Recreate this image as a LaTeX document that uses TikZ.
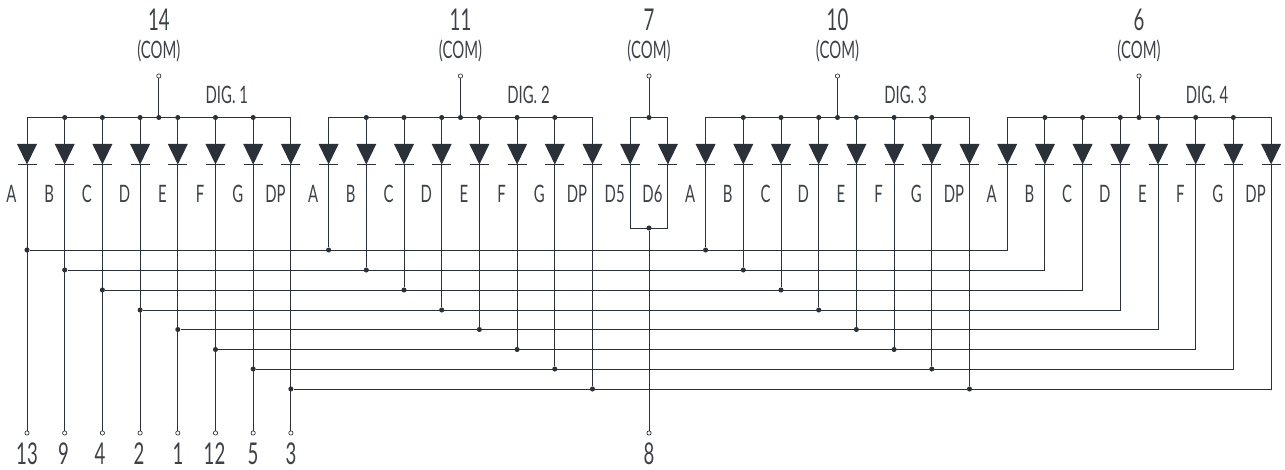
\documentclass[tikz,border=0pt]{standalone}
\usepackage{fontspec}
\setmainfont[FakeStretch=0.62]{Lato}
\usepackage{xcolor}
\usetikzlibrary{positioning}
\definecolor{wirecol}{HTML}{2A3138}
\definecolor{textcol}{HTML}{3C4248}
\tikzset{
    wire/.style={draw=wirecol, line width=0.7pt},
    joint/.style={circle, fill=wirecol, inner sep=0pt, minimum size=3.8pt},
    pinend/.style={circle, draw=wirecol, fill=white, line width=0.5pt, inner sep=0pt, minimum size=3.2pt},
    biglabel/.style={text=textcol, font=\fontsize{22.5}{23}\selectfont, inner sep=0pt},
    smalllabel/.style={text=textcol, font=\fontsize{18}{18}\selectfont, inner sep=0pt}
}
\begin{document}
\begin{tikzpicture}[x=0.75pt, y=-0.75pt]
    \useasboundingbox (0,0) rectangle (1285,470);

    % Diodes with their segment labels, one column each
    \foreach \n/\seg in {0/A,1/B,2/C,3/D,4/E,5/F,6/G,7/DP,
                         8/A,9/B,10/C,11/D,12/E,13/F,14/G,15/DP,
                         16/D5,17/D6,
                         18/A,19/B,20/C,21/D,22/E,23/F,24/G,25/DP,
                         26/A,27/B,28/C,29/D,30/E,31/F,32/G,33/DP} {
        \coordinate (top\n) at ({27+37.7*\n},117.5);
        \coordinate (anode\n) at ({27+37.7*\n},144);
        \coordinate (cath\n) at ({27+37.7*\n},164.5);
        \fill[wirecol] (anode\n) ++(-10,0) -- ++(20,0) -- (cath\n) -- cycle;
        \draw[wire] (cath\n) ++(-9.5,0) -- ++(19,0);
        \draw[wire] (top\n) -- (anode\n);
        \node[smalllabel] (seg\n) at ({11.5+37.7*\n},194) {\seg};
    }

    % Common rail of each digit with its pin
    \foreach \dig/\first/\last/\pinx/\num/\name in {1/0/7/158.8/14/DIG. 1, 2/8/15/460.5/11/DIG. 2,
                                                    3/18/25/837.5/10/DIG. 3, 4/26/33/1139/6/DIG. 4} {
        \node[joint] (com\dig) at (\pinx,117.5) {};
        \node[pinend] (compin\dig) at (\pinx,76) {};
        \draw[wire] (compin\dig) -- (com\dig);
        \draw[wire] (top\first) -- (top\last);
        \node[biglabel] (comnum\dig) at (\pinx,19.5) {\num};
        \node[smalllabel] (comtext\dig) at (\pinx,50.5) {(COM)};
        \node[smalllabel] (dig\dig) at (\pinx+68,95) {\name};
        \pgfmathtruncatemacro{\from}{\first+1}
        \pgfmathtruncatemacro{\upto}{\last-1}
        \foreach \n in {\from,...,\upto} {
            \node[joint] at (top\n) {};
        }
    }

    % The two middle diodes share pin 7 and pin 8
    \node[joint] (com5) at (649,117.5) {};
    \node[pinend] (compin5) at (649,76) {};
    \draw[wire] (compin5) -- (com5);
    \draw[wire] (top16) -- (top17);
    \node[biglabel] (comnum5) at (649,19.5) {7};
    \node[smalllabel] (comtext5) at (649,50.5) {(COM)};
    \coordinate (low16) at (cath16 |- 0,228);
    \coordinate (low17) at (cath17 |- 0,228);
    \node[joint] (mid) at (649,228) {};
    \node[pinend] (pineight) at (649,433) {};
    \draw[wire] (cath16) -- (low16) -- (low17) -- (cath17);
    \draw[wire] (mid) -- (pineight);
    \node[biglabel] (numeight) at (649,454) {8};

    % Segment lines, from the pins along to the last digit
    \foreach \k/\busy/\pinnum/\numx in {0/250/13/27, 1/270/9/63.5, 2/290/4/100, 3/310/2/139,
                                        4/329.5/1/178, 5/349.5/12/214.5, 6/369/5/253, 7/389/3/291} {
        \pgfmathtruncatemacro{\two}{\k+8}
        \pgfmathtruncatemacro{\three}{\k+18}
        \pgfmathtruncatemacro{\four}{\k+26}
        \node[joint] (busa\k) at (cath\k |- 0,\busy) {};
        \node[joint] (busb\k) at (cath\two |- 0,\busy) {};
        \node[joint] (busc\k) at (cath\three |- 0,\busy) {};
        \node[pinend] (pin\k) at (cath\k |- 0,433) {};
        \draw[wire] (cath\k) -- (pin\k);
        \draw[wire] (cath\two) -- (busb\k);
        \draw[wire] (cath\three) -- (busc\k);
        \draw[wire] (cath\four) |- (busa\k);
        \node[biglabel] (num\k) at (\numx,454) {\pinnum};
    }
\end{tikzpicture}
\end{document}
